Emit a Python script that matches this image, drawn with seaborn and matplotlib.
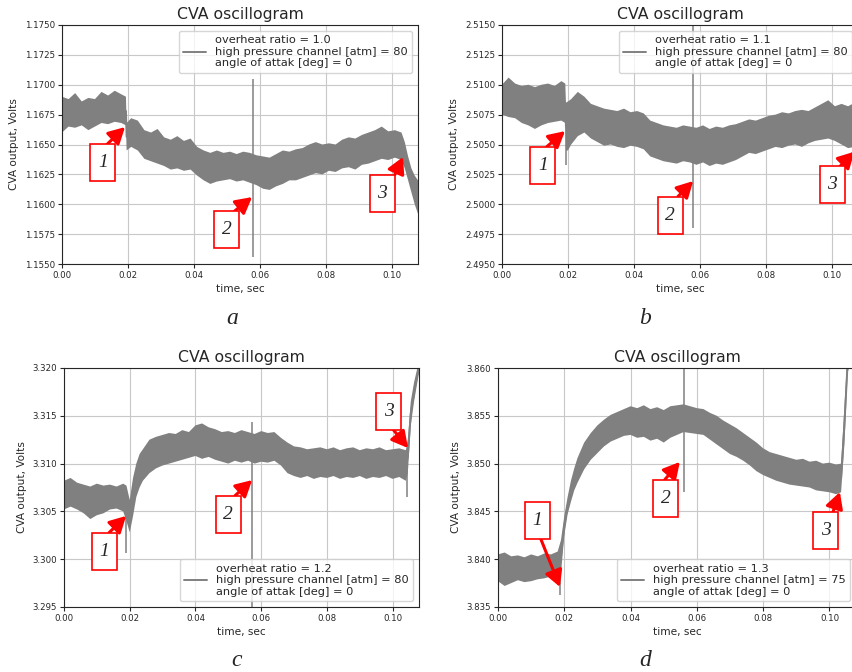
import numpy as np
import pandas as pd
import matplotlib
matplotlib.use("Agg")
import matplotlib.pyplot as plt
from matplotlib.patches import Rectangle
from matplotlib.ticker import MultipleLocator, FormatStrFormatter
import seaborn as sns

# --- data (time in ms, volts) ---

# panel a: overheat ratio 1.0
t_a = [0, 2, 4, 6, 8, 10, 12, 14, 16, 18, 19.4, 19.6,
       21, 23, 25, 27, 29, 31, 33, 35, 37, 39, 41, 43, 45, 47, 49, 51, 53, 55,
       57, 59, 61, 63, 65, 67, 69, 71, 73, 75, 77, 79, 81, 83, 85, 87, 89, 91,
       93, 95, 97, 99, 101, 103, 104, 105, 106, 107, 108]
hi_a = [1.1690, 1.1688, 1.1693, 1.1686, 1.1689, 1.1688, 1.1694, 1.1691, 1.1695, 1.1692, 1.1690, 1.1668,
        1.1672, 1.1670, 1.1662, 1.1660, 1.1663, 1.1656, 1.1654, 1.1657, 1.1653, 1.1655, 1.1648, 1.1645,
        1.1643, 1.1645, 1.1643, 1.1644, 1.1642, 1.1644, 1.1643, 1.1641, 1.1640, 1.1639, 1.1642, 1.1645,
        1.1644, 1.1646, 1.1647, 1.1650, 1.1652, 1.1650, 1.1651, 1.1650, 1.1654, 1.1656, 1.1655, 1.1658,
        1.1660, 1.1662, 1.1665, 1.1661, 1.1662, 1.1660, 1.1652, 1.1640, 1.1630, 1.1624, 1.1620]
lo_a = [1.1660, 1.1665, 1.1664, 1.1666, 1.1662, 1.1665, 1.1668, 1.1667, 1.1669, 1.1668, 1.1666, 1.1645,
        1.1648, 1.1645, 1.1638, 1.1636, 1.1634, 1.1632, 1.1629, 1.1630, 1.1628, 1.1629, 1.1624, 1.1620,
        1.1617, 1.1619, 1.1620, 1.1621, 1.1619, 1.1620, 1.1618, 1.1616, 1.1613, 1.1612, 1.1615, 1.1617,
        1.1620, 1.1620, 1.1622, 1.1624, 1.1626, 1.1625, 1.1628, 1.1627, 1.1630, 1.1631, 1.1629, 1.1633,
        1.1634, 1.1636, 1.1638, 1.1637, 1.1639, 1.1637, 1.1630, 1.1620, 1.1610, 1.1600, 1.1592]
spike_t_a = [57.8]
spike_lo_a = [1.1556]
spike_hi_a = [1.1705]

# panel b: overheat ratio 1.1
t_b = [0, 2, 4, 6, 8, 10, 12, 14, 16, 18, 19.2, 19.4, 20,
       21, 23, 25, 27, 29, 31, 33, 35, 37, 39, 41, 43, 45, 47, 49, 51, 53, 55,
       57, 59, 61, 63, 65, 67, 69, 71, 73, 75, 77, 79, 81, 83, 85, 87, 89, 91,
       93, 95, 97, 99, 101, 103, 105, 107, 108]
hi_b = [2.5100, 2.5106, 2.5101, 2.5099, 2.5100, 2.5098, 2.5100, 2.5101, 2.5099, 2.5103, 2.5101, 2.5085, 2.5086,
        2.5088, 2.5094, 2.5090, 2.5084, 2.5082, 2.5080, 2.5079, 2.5078, 2.5080, 2.5077, 2.5078, 2.5076,
        2.5070, 2.5068, 2.5066, 2.5065, 2.5064, 2.5066, 2.5065, 2.5064, 2.5066, 2.5063, 2.5065, 2.5064,
        2.5066, 2.5067, 2.5069, 2.5071, 2.5070, 2.5072, 2.5074, 2.5075, 2.5077, 2.5076, 2.5078, 2.5079,
        2.5078, 2.5081, 2.5084, 2.5087, 2.5082, 2.5084, 2.5082, 2.5085, 2.5083]
lo_b = [2.5075, 2.5073, 2.5072, 2.5068, 2.5066, 2.5063, 2.5066, 2.5068, 2.5069, 2.5070, 2.5068, 2.5045, 2.5045,
        2.5050, 2.5057, 2.5060, 2.5055, 2.5052, 2.5049, 2.5050, 2.5048, 2.5047, 2.5049, 2.5048, 2.5046,
        2.5040, 2.5038, 2.5036, 2.5035, 2.5034, 2.5036, 2.5035, 2.5033, 2.5035, 2.5032, 2.5034, 2.5033,
        2.5035, 2.5037, 2.5040, 2.5043, 2.5042, 2.5044, 2.5046, 2.5048, 2.5047, 2.5049, 2.5050, 2.5048,
        2.5051, 2.5053, 2.5054, 2.5055, 2.5053, 2.5050, 2.5047, 2.5048, 2.5050]
spike_t_b = [19.3, 57.8]
spike_lo_b = [2.5033, 2.4980]
spike_hi_b = [2.5085, 2.5160]

# panel c: overheat ratio 1.2
t_c = [0, 2, 4, 6, 8, 10, 12, 14, 16, 18, 19, 20, 21, 22, 23,
       24, 26, 28, 30, 32, 34, 36, 38, 40, 42, 44, 46, 48, 50, 52, 54, 56, 58,
       60, 62, 64, 66, 68, 70, 72, 74, 76, 78, 80, 82, 84, 86, 88, 90, 92, 94,
       96, 98, 100, 102, 104, 104.6, 105.5, 106.5, 107.5, 108]
hi_c = [3.3082, 3.3085, 3.3080, 3.3078, 3.3076, 3.3079, 3.3077, 3.3078, 3.3076, 3.3079,
        3.3077, 3.3062, 3.3085, 3.3100, 3.3110,
        3.3115, 3.3125, 3.3128, 3.3130, 3.3132, 3.3131, 3.3135, 3.3133, 3.3140, 3.3142, 3.3138,
        3.3136, 3.3133, 3.3134, 3.3132, 3.3135, 3.3133, 3.3131, 3.3134, 3.3132, 3.3133, 3.3127,
        3.3122, 3.3118, 3.3117, 3.3115, 3.3116, 3.3117, 3.3115, 3.3117, 3.3114, 3.3116, 3.3117,
        3.3114, 3.3116, 3.3115, 3.3117, 3.3114, 3.3115, 3.3116, 3.3114,
        3.3125, 3.3165, 3.3185, 3.3200, 3.3205]
lo_c = [3.3052, 3.3055, 3.3052, 3.3048, 3.3042, 3.3046, 3.3048, 3.3052, 3.3053, 3.3050,
        3.3040, 3.3028, 3.3045, 3.3065, 3.3075,
        3.3082, 3.3090, 3.3095, 3.3098, 3.3100, 3.3102, 3.3104, 3.3106, 3.3108, 3.3105, 3.3107,
        3.3104, 3.3102, 3.3100, 3.3103, 3.3101, 3.3103, 3.3100, 3.3102, 3.3101, 3.3103, 3.3098,
        3.3090, 3.3087, 3.3085, 3.3087, 3.3084, 3.3086, 3.3085, 3.3087, 3.3084, 3.3086, 3.3085,
        3.3087, 3.3084, 3.3086, 3.3085, 3.3087, 3.3084, 3.3086, 3.3082,
        3.3090, 3.3140, 3.3165, 3.3185, 3.3195]
spike_t_c = [19.0, 57.3, 104.4]
spike_lo_c = [3.3006, 3.2940, 3.3065]
spike_hi_c = [3.3060, 3.3144, 3.3110]

# panel d: overheat ratio 1.3
t_d = [0, 2, 4, 6, 8, 10, 12, 14, 16, 18, 19, 20, 21, 22, 23,
       24, 26, 28, 30, 32, 34, 36, 38, 40, 42, 44, 46, 48, 50, 52, 54, 56, 58,
       60, 62, 64, 66, 68, 70, 72, 74, 76, 78, 80, 82, 84, 86, 88, 90, 92, 94,
       96, 98, 100, 102, 103.5, 104.5, 105.5, 108]
hi_d = [3.8405, 3.8407, 3.8403, 3.8404, 3.8402, 3.8405, 3.8403, 3.8406, 3.8405, 3.8408,
        3.8420, 3.8445, 3.8465, 3.8482, 3.8495,
        3.8506, 3.8522, 3.8532, 3.8540, 3.8546, 3.8551, 3.8554, 3.8557, 3.8560, 3.8558, 3.8561,
        3.8557, 3.8559, 3.8556, 3.8560, 3.8561, 3.8562, 3.8560, 3.8558, 3.8557, 3.8553, 3.8550,
        3.8545, 3.8541, 3.8537, 3.8532, 3.8527, 3.8522, 3.8516, 3.8512, 3.8510, 3.8508, 3.8506,
        3.8504, 3.8505, 3.8502, 3.8503, 3.8500, 3.8501, 3.8499,
        3.8500, 3.8560, 3.8620, 3.8650]
lo_d = [3.8377, 3.8372, 3.8375, 3.8378, 3.8376, 3.8377, 3.8379, 3.8380, 3.8382, 3.8381,
        3.8385, 3.8425, 3.8447, 3.8460, 3.8472,
        3.8480, 3.8494, 3.8504, 3.8511, 3.8518, 3.8523, 3.8526, 3.8529, 3.8530, 3.8527, 3.8528,
        3.8524, 3.8526, 3.8522, 3.8527, 3.8530, 3.8533, 3.8532, 3.8531, 3.8530, 3.8525, 3.8520,
        3.8515, 3.8510, 3.8507, 3.8503, 3.8498, 3.8492, 3.8488, 3.8485, 3.8482, 3.8480, 3.8478,
        3.8477, 3.8476, 3.8475, 3.8472, 3.8471, 3.8470, 3.8468,
        3.8470, 3.8520, 3.8595, 3.8630]
spike_t_d = [18.7, 56.0]
spike_lo_d = [3.8363, 3.8470]
spike_hi_d = [3.8400, 3.8610]

overheat = ["1.0", "1.1", "1.2", "1.3"]
pressure = [80, 80, 80, 75]
y_ranges = [(1.1550, 1.1750), (2.4950, 2.5150), (3.295, 3.320), (3.835, 3.860)]
y_steps = [0.0025, 0.0025, 0.005, 0.005]
y_formats = ["%.4f", "%.4f", "%.3f", "%.3f"]
panel_letters = ["a", "b", "c", "d"]

# --- style ---
sns.set_theme(style="ticks", rc={
    "axes.linewidth": 0.8,
    "xtick.major.width": 0.8,
    "ytick.major.width": 0.8,
    "xtick.major.size": 3,
    "ytick.major.size": 3,
    "axes.axisbelow": True,
})
plt.rcParams["font.family"] = ["DejaVu Sans"]

SIG = "#808080"

fig = plt.figure(figsize=(8.52, 6.72), dpi=100)

# axes rectangles in pixels: left, top, width, height
rects_px = [
    (62, 25, 356, 239),
    (502, 25, 356, 239),
    (64, 368, 355, 239),
    (498, 368, 358, 239),
]

panels = [
    (t_a, lo_a, hi_a, spike_t_a, spike_lo_a, spike_hi_a),
    (t_b, lo_b, hi_b, spike_t_b, spike_lo_b, spike_hi_b),
    (t_c, lo_c, hi_c, spike_t_c, spike_lo_c, spike_hi_c),
    (t_d, lo_d, hi_d, spike_t_d, spike_lo_d, spike_hi_d),
]

legend_locs = ["upper right", "upper right", "lower right", "lower right"]

# annotation boxes: (label, box centre, arrow start, arrow tip) in axes fraction
notes = [
    [("1", (0.115, 0.423), (0.126, 0.500), (0.177, 0.573)),
     ("2", (0.463, 0.146), (0.486, 0.223), (0.534, 0.280)),
     ("3", (0.899, 0.297), (0.935, 0.374), (0.958, 0.448))],
    [("1", (0.115, 0.414), (0.126, 0.491), (0.177, 0.556)),
     ("2", (0.472, 0.205), (0.494, 0.282), (0.537, 0.347)),
     ("3", (0.927, 0.331), (0.949, 0.408), (0.990, 0.470))],
    [("1", (0.113, 0.234), (0.127, 0.311), (0.175, 0.381)),
     ("2", (0.462, 0.389), (0.482, 0.466), (0.530, 0.531)),
     ("3", (0.915, 0.820), (0.927, 0.743), (0.969, 0.665))],
    [("1", (0.109, 0.360), (0.120, 0.283), (0.173, 0.084)),
     ("2", (0.469, 0.456), (0.466, 0.533), (0.508, 0.607)),
     ("3", (0.916, 0.322), (0.936, 0.399), (0.955, 0.481))],
]
BOX_W, BOX_H = 25, 37   # box size in pixels

for i, (t, lo, hi, st, slo, shi) in enumerate(panels):
    left, top, w, h = rects_px[i]
    ax = fig.add_axes([left / 852, 1 - (top + h) / 672, w / 852, h / 672])

    # band from min to max of the signal at each time sample
    df = pd.DataFrame({
        "t": np.array(t + t) / 1000.0,
        "v": lo + hi,
    })
    label = (f"overheat ratio = {overheat[i]}\n"
             f"high pressure channel [atm] = {pressure[i]}\n"
             f"angle of attak [deg] = 0")
    sns.lineplot(data=df, x="t", y="v", ax=ax, color=SIG, lw=1.4,
                 errorbar=("pi", 100),
                 err_kws={"alpha": 1, "linewidth": 0, "edgecolor": "none"},
                 label=label)

    # short spikes in the record
    ax.vlines(np.array(st) / 1000.0, slo, shi, color=SIG, lw=1.1)

    ax.set_xlim(0, 0.108)
    ax.set_ylim(*y_ranges[i])
    ax.xaxis.set_major_locator(MultipleLocator(0.02))
    ax.xaxis.set_major_formatter(FormatStrFormatter("%.2f"))
    ax.yaxis.set_major_locator(MultipleLocator(y_steps[i]))
    ax.yaxis.set_major_formatter(FormatStrFormatter(y_formats[i]))
    ax.tick_params(labelsize=6.2, pad=2)
    ax.grid(True, color="#c8c8c8", lw=0.8)

    ax.set_title("CVA oscillogram", fontsize=11.3, pad=4)
    ax.set_xlabel("time, sec", fontsize=7.6, labelpad=3)
    ax.set_ylabel("CVA output, Volts", fontsize=7.6, labelpad=4)

    ax.legend(loc=legend_locs[i], fontsize=8.2, frameon=True, framealpha=0.8,
              edgecolor="0.8", handlelength=2)

    # numbered red boxes with arrows
    bw, bh = BOX_W / w, BOX_H / h
    for txt, (cx, cy), start, tip in notes[i]:
        ax.annotate("", xy=tip, xytext=start,
                    xycoords="axes fraction", textcoords="axes fraction",
                    arrowprops=dict(arrowstyle="-|>,head_length=0.7,head_width=0.38",
                                    mutation_scale=14, color="red", lw=2.2,
                                    shrinkA=0, shrinkB=0),
                    zorder=4)
        box = Rectangle((cx - bw / 2, cy - bh / 2), bw, bh, transform=ax.transAxes,
                        fc="white", ec="red", lw=1.2, zorder=5)
        ax.add_patch(box)
        ax.text(cx, cy, txt, transform=ax.transAxes, ha="center", va="center",
                fontsize=14, family="Liberation Serif", style="italic", zorder=6)

# panel letters under each plot
letter_pos = [(232, 318), (645, 318), (237, 660), (645, 660)]
for letter, (px, py) in zip(panel_letters, letter_pos):
    fig.text(px / 852, 1 - py / 672, letter, ha="center", va="center",
             fontsize=17, family="Liberation Serif", style="italic")

fig.savefig("out.png", dpi=100)
